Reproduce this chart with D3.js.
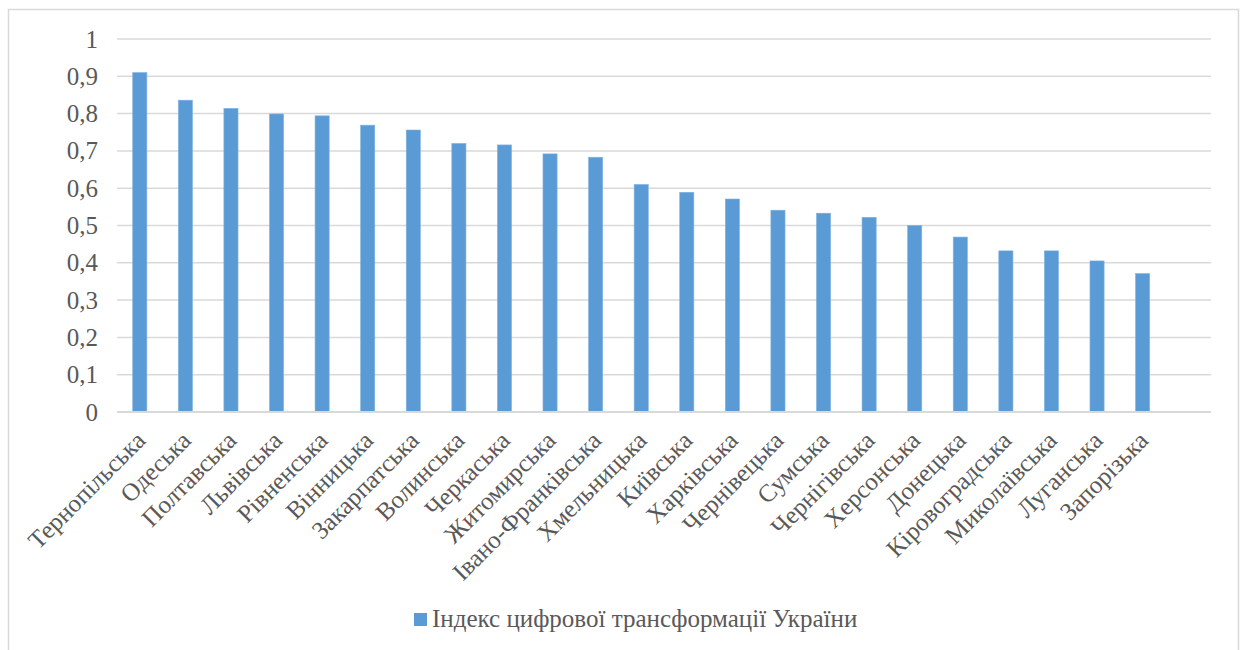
<!DOCTYPE html>
<html>
<head>
<meta charset="utf-8">
<script src="https://cdn.jsdelivr.net/npm/d3@7"></script>
<style>
  body { margin: 0; background: #fff; }
</style>
</head>
<body>
<svg id="chart" width="1240" height="650"></svg>
<script>
// Індекс цифрової трансформації по областях
const regions = [
  'Тернопільська', 'Одеська', 'Полтавська', 'Львівська', 'Рівненська', 'Вінницька',
  'Закарпатська', 'Волинська', 'Черкаська', 'Житомирська', 'Івано-Франківська',
  'Хмельницька', 'Київська', 'Харківська', 'Чернівецька', 'Сумська', 'Чернігівська',
  'Херсонська', 'Донецька', 'Кіровоградська', 'Миколаївська', 'Луганська', 'Запорізька'
];
const indexValues = [
  0.910, 0.836, 0.814, 0.799, 0.794, 0.769,
  0.756, 0.720, 0.716, 0.692, 0.683,
  0.610, 0.589, 0.571, 0.541, 0.533, 0.522,
  0.500, 0.469, 0.432, 0.432, 0.405, 0.371
];
const yTicks = [0, 0.1, 0.2, 0.3, 0.4, 0.5, 0.6, 0.7, 0.8, 0.9, 1];
const seriesName = 'Індекс цифрової трансформації України';

const serif = "'Liberation Serif', 'Times New Roman', Tinos, 'Nimbus Roman', FreeSerif";
const svg = d3.select('#chart').style('font-family', serif);
const color = '#5B9BD5';
const textColor = '#595959';

// Layout
const plotL = 117, plotR = 1211, plotT = 39, plotB = 412;

// outer frame
svg.append('rect')
  .attr('x', 8.5).attr('y', 9.5)
  .attr('width', 1230).attr('height', 700)
  .attr('fill', 'none').attr('stroke', '#d9d9d9').attr('stroke-width', 1.5);

// one empty slot at the end, like in the source chart
const x = d3.scaleBand()
  .domain([...regions, ''])
  .range([plotL, plotR])
  .paddingInner(0.69)
  .paddingOuter(0.345);

const y = d3.scaleLinear().domain([0, 1]).range([plotB, plotT]);

// gridlines
svg.append('g')
  .selectAll('line')
  .data(yTicks.slice(1))
  .join('line')
  .attr('x1', plotL).attr('x2', plotR)
  .attr('y1', d => y(d)).attr('y2', d => y(d))
  .attr('stroke', '#d9d9d9').attr('stroke-width', 1.5);

// y labels
svg.append('g')
  .selectAll('text')
  .data(yTicks)
  .join('text')
  .attr('transform', d => `translate(98,${y(d) + 8.5})`)
  .attr('text-anchor', 'end')
  .attr('font-size', 25)
  .attr('fill', textColor)
  .style('font-family', serif)
  .text(d => d3.format('.1~f')(d).replace('.', ','));

// bars
svg.append('g')
  .selectAll('rect')
  .data(regions)
  .join('rect')
  .attr('x', d => x(d))
  .attr('y', (d, i) => y(indexValues[i]))
  .attr('width', x.bandwidth())
  .attr('height', (d, i) => plotB - y(indexValues[i]))
  .attr('fill', color)
  .attr('stroke', '#7fb2e0').attr('stroke-width', 0.6);

// baseline
svg.append('line')
  .attr('x1', plotL).attr('x2', plotR)
  .attr('y1', plotB).attr('y2', plotB)
  .attr('stroke', '#d9d9d9').attr('stroke-width', 2);

// category labels, rotated
svg.append('g')
  .selectAll('text')
  .data(regions)
  .join('text')
  .attr('transform', d => `translate(${x(d) + x.bandwidth() / 2 + 7},${plotB + 30}) rotate(-45)`)
  .attr('text-anchor', 'end')
  .attr('font-size', 25)
  .attr('fill', textColor)
  .style('font-family', serif)
  .text(d => d);

// legend
const lg = svg.append('g').attr('transform', 'translate(414,613)');
lg.append('rect').attr('width', 13).attr('height', 13).attr('fill', color);
lg.append('text')
  .attr('transform', 'translate(18,14)')
  .attr('font-size', 25)
  .attr('fill', textColor)
  .style('font-family', serif)
  .text(seriesName);
</script>
</body>
</html>
